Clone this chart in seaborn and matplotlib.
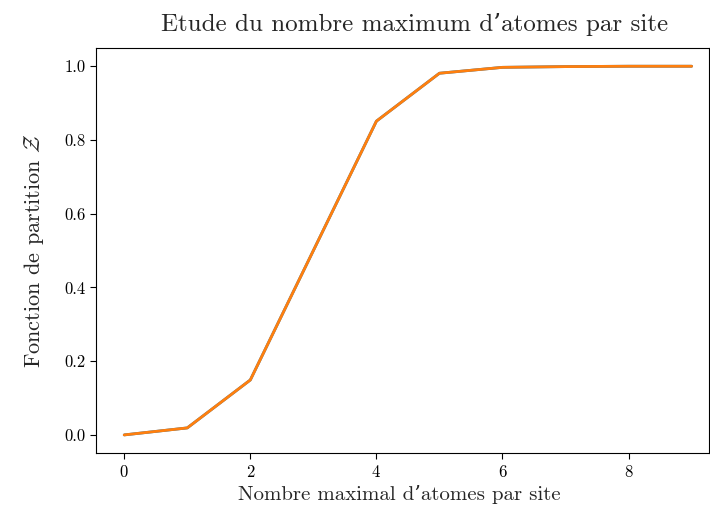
#!/usr/bin/env python3
"""Partition function vs maximum number of atoms per site."""

import matplotlib

matplotlib.use("Agg")

import matplotlib.pyplot as plt
import seaborn as sns

n_max = [0, 1, 2, 3, 4, 5, 6, 7, 8, 9]
z_first = [0.0, 0.019, 0.149, 0.50, 0.851, 0.981, 0.997, 0.999, 1.0, 1.0]
z_second = [0.0, 0.019, 0.149, 0.50, 0.851, 0.981, 0.997, 0.999, 1.0, 1.0]

sns.set_style("ticks")
plt.rcParams.update(
    {
        "font.family": ["cmr10", "DejaVu Serif"],
        "mathtext.fontset": "cm",
        "axes.formatter.use_mathtext": True,
        "axes.spines.top": True,
        "axes.spines.right": True,
        "axes.edgecolor": "black",
        "xtick.color": "black",
        "ytick.color": "black",
        "axes.unicode_minus": False,
        "savefig.bbox": "standard",
    }
)

fig, ax = plt.subplots(figsize=(7.1, 5.14), dpi=100)
fig.subplots_adjust(left=0.135, right=0.999, top=0.907, bottom=0.118)

palette = sns.color_palette("tab10")
sns.lineplot(x=n_max, y=z_first, ax=ax, color=palette[0], linewidth=2)
sns.lineplot(x=n_max, y=z_second, ax=ax, color=palette[1], linewidth=2)

ax.set_title("Etude du nombre maximum d\u2019atomes par site", fontsize=18, pad=12, x=0.52)
ax.set_xlabel("Nombre maximal d\u2019atomes par site", fontsize=15, labelpad=4, x=0.495)
ax.set_ylabel(r"Fonction de partition $\mathcal{Z}$", fontsize=16, labelpad=13)
ax.tick_params(labelsize=12, direction="out", length=4)
ax.set_xlim(-0.45, 9.28)
ax.set_xticks([0, 2, 4, 6, 8])
ax.set_yticks([0.0, 0.2, 0.4, 0.6, 0.8, 1.0])
ax.set_yticklabels(["0.0", "0.2", "0.4", "0.6", "0.8", "1.0"])

fig.savefig("out.png", dpi=100, bbox_inches=None)
